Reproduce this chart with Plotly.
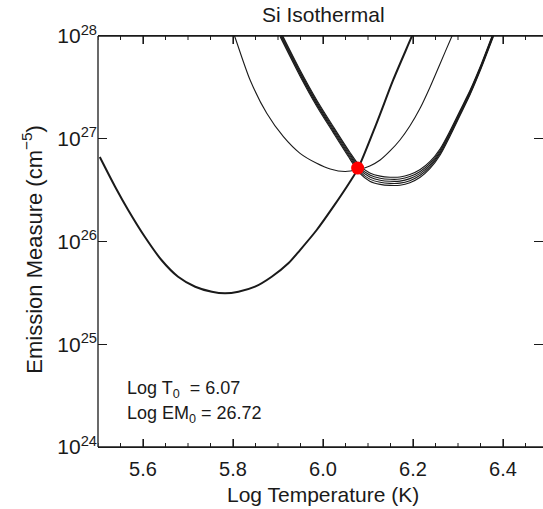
import math
import plotly.graph_objects as go

# ---- data (log10 T, log10 EM) ----
curveA_logT = [5.504, 5.538, 5.567, 5.604, 5.641, 5.678, 5.716, 5.753, 5.782, 5.812, 5.849,
               5.886, 5.923, 5.949, 5.986, 6.023, 6.060, 6.078, 6.119, 6.156, 6.197, 6.205]
curveA_logEM = [26.822, 26.533, 26.307, 26.046, 25.820, 25.657, 25.560, 25.511, 25.496, 25.511, 25.560,
                25.657, 25.788, 25.917, 26.112, 26.339, 26.582, 26.712, 27.150, 27.572, 27.993, 28.08]

curveB_logT = [5.798, 5.804, 5.838, 5.875, 5.912, 5.949, 5.986, 6.016, 6.049, 6.078, 6.104, 6.127,
               6.149, 6.171, 6.193, 6.216, 6.238, 6.260, 6.286, 6.292]
curveB_logEM = [28.06, 27.993, 27.572, 27.248, 27.020, 26.858, 26.761, 26.706, 26.681, 26.700, 26.735, 26.793,
                26.881, 26.988, 27.124, 27.299, 27.504, 27.728, 27.993, 28.05]

bundle_logT = [5.905, 5.949, 5.986, 6.023, 6.060, 6.082, 6.104, 6.127, 6.149, 6.171,
               6.193, 6.216, 6.238, 6.260, 6.282, 6.304, 6.327, 6.349, 6.380]
bundle1_logEM = [28.05, 27.669, 27.377, 27.117, 26.866, 26.735, 26.667, 26.636, 26.626, 26.628,
                 26.652, 26.701, 26.779, 26.900, 27.075, 27.270, 27.474, 27.698, 28.05]
bundle2_logEM = [28.035, 27.654, 27.362, 27.102, 26.850, 26.717, 26.647, 26.616, 26.606, 26.608,
                 26.632, 26.682, 26.762, 26.885, 27.062, 27.258, 27.463, 27.688, 28.04]
bundle3_logEM = [28.02, 27.639, 27.347, 27.087, 26.834, 26.699, 26.627, 26.596, 26.586, 26.588,
                 26.612, 26.663, 26.745, 26.870, 27.049, 27.246, 27.452, 27.678, 28.03]
bundle4_logEM = [28.005, 27.624, 27.332, 27.072, 26.818, 26.681, 26.607, 26.576, 26.566, 26.568,
                 26.592, 26.644, 26.728, 26.855, 27.036, 27.234, 27.441, 27.668, 28.02]
bundle5_logEM = [27.99, 27.609, 27.317, 27.057, 26.802, 26.663, 26.587, 26.556, 26.546, 26.548,
                 26.572, 26.625, 26.711, 26.840, 27.023, 27.222, 27.430, 27.658, 28.01]

best_logT = [6.077]
best_logEM = [26.715]

x_major_ticks = [5.6, 5.8, 6.0, 6.2, 6.4]
x_tick_labels = ["5.6", "5.8", "6.0", "6.2", "6.4"]
y_decades = [24, 25, 26, 27, 28]

title_text = "Si Isothermal"
xtitle = "Log Temperature (K)"
ytitle = "Emission Measure (cm<sup>−5</sup>)"
label_T0 = "Log T<sub>0</sub>  = 6.07"
label_EM0 = "Log EM<sub>0</sub> = 26.72"

FONT = "Liberation Sans, Arial, Helvetica, sans-serif"
INK = "#1a1a1a"
X_RANGE = [5.5, 6.4889]
Y_RANGE = [24, 28]

fig = go.Figure()


def add_curve(xs, logys, width):
    fig.add_trace(go.Scatter(
        x=xs, y=[10.0 ** v for v in logys], mode="lines",
        line=dict(color=INK, width=width, shape="spline", smoothing=0.8),
        hoverinfo="skip", showlegend=False))


add_curve(curveA_logT, curveA_logEM, 2.0)
add_curve(curveB_logT, curveB_logEM, 1.1)
for b in (bundle1_logEM, bundle2_logEM, bundle3_logEM, bundle4_logEM, bundle5_logEM):
    add_curve(bundle_logT, b, 1.1)

fig.add_trace(go.Scatter(
    x=best_logT, y=[10.0 ** v for v in best_logEM], mode="markers",
    marker=dict(color="#ff0000", size=13, line=dict(width=0)),
    showlegend=False, cliponaxis=False))

# minor tick positions
x_minor = [round(5.5 + 0.05 * i, 2) for i in range(21)]
x_minor = [v for v in x_minor if all(abs(v - m) > 1e-6 for m in x_major_ticks) and v < X_RANGE[1]]
y_minor_log = [k + math.log10(m) for k in y_decades[:-1] for m in range(2, 10)]

fig.update_layout(
    width=543, height=509,
    margin=dict(l=98, r=0, t=36, b=62, pad=0),
    paper_bgcolor="white", plot_bgcolor="white",
    font=dict(family=FONT, color=INK),
    xaxis=dict(
        range=X_RANGE, tickmode="array", tickvals=x_major_ticks, ticktext=x_tick_labels,
        ticks="inside", ticklen=8, tickwidth=1.2, tickcolor=INK, ticklabelstandoff=4,
        tickfont=dict(family=FONT, size=20, color=INK),
        showline=True, linecolor=INK, linewidth=1.3, mirror="ticks",
        showgrid=False, zeroline=False),
    yaxis=dict(
        type="log", range=Y_RANGE, tickmode="array",
        tickvals=[10.0 ** k for k in y_decades],
        ticktext=["10<sup>%d</sup>" % k for k in y_decades],
        ticks="inside", ticklen=9, tickwidth=1.2, tickcolor=INK,
        tickfont=dict(family=FONT, size=21, color=INK),
        showline=False, mirror="ticks",
        showgrid=False, zeroline=False),
)

# frame lines (left, top, bottom; the right edge lies outside the reference picture)
fig.add_shape(type="line", xref="paper", yref="paper", x0=0, x1=0, y0=0, y1=1,
              line=dict(color=INK, width=1.3))
fig.add_shape(type="line", xref="paper", yref="paper", x0=0, x1=1, y0=1, y1=1,
              line=dict(color=INK, width=1.3))
fig.add_shape(type="line", xref="paper", yref="paper", x0=0, x1=1, y0=0, y1=0,
              line=dict(color=INK, width=1.3))


# tick marks drawn inside the frame on all four sides
def xtick(v, length, width):
    for anchor, sign in ((0, 1), (1, -1)):
        fig.add_shape(type="line", xref="x", yref="paper", ysizemode="pixel", yanchor=anchor,
                      x0=v, x1=v, y0=0, y1=sign * length,
                      line=dict(color=INK, width=width))


def ytick(logv, length, width):
    for anchor, sign in ((0, 1), (1, -1)):
        fig.add_shape(type="line", xref="paper", yref="y", xsizemode="pixel", xanchor=anchor,
                      y0=logv, y1=logv, x0=0, x1=sign * length,
                      line=dict(color=INK, width=width))


for v in x_major_ticks:
    xtick(v, 8, 1.2)
for v in x_minor:
    xtick(v, 4, 1.0)
for k in y_decades:
    ytick(k, 9, 1.2)
for v in y_minor_log:
    ytick(v, 4, 1.0)

fig.add_annotation(text=title_text, xref="paper", yref="paper", x=0.506, y=1.0,
                   yshift=22, showarrow=False, xanchor="center", yanchor="middle",
                   font=dict(family=FONT, size=21, color=INK))
fig.add_annotation(text=xtitle, xref="paper", yref="paper", x=0.506, y=0, yshift=-47,
                   showarrow=False, xanchor="center", yanchor="middle",
                   font=dict(family=FONT, size=21, color=INK))
fig.add_annotation(text=ytitle, xref="paper", yref="paper", x=0, xshift=-66, y=0.48,
                   textangle=-90, showarrow=False, xanchor="center", yanchor="middle",
                   font=dict(family=FONT, size=22, color=INK))
fig.add_annotation(text=label_T0, xref="paper", yref="paper", x=0.061, y=0.14,
                   showarrow=False, xanchor="left", yanchor="middle",
                   font=dict(family=FONT, size=18, color=INK))
fig.add_annotation(text=label_EM0, xref="paper", yref="paper", x=0.061, y=0.078,
                   showarrow=False, xanchor="left", yanchor="middle",
                   font=dict(family=FONT, size=18, color=INK))

fig.write_html("out.html")
